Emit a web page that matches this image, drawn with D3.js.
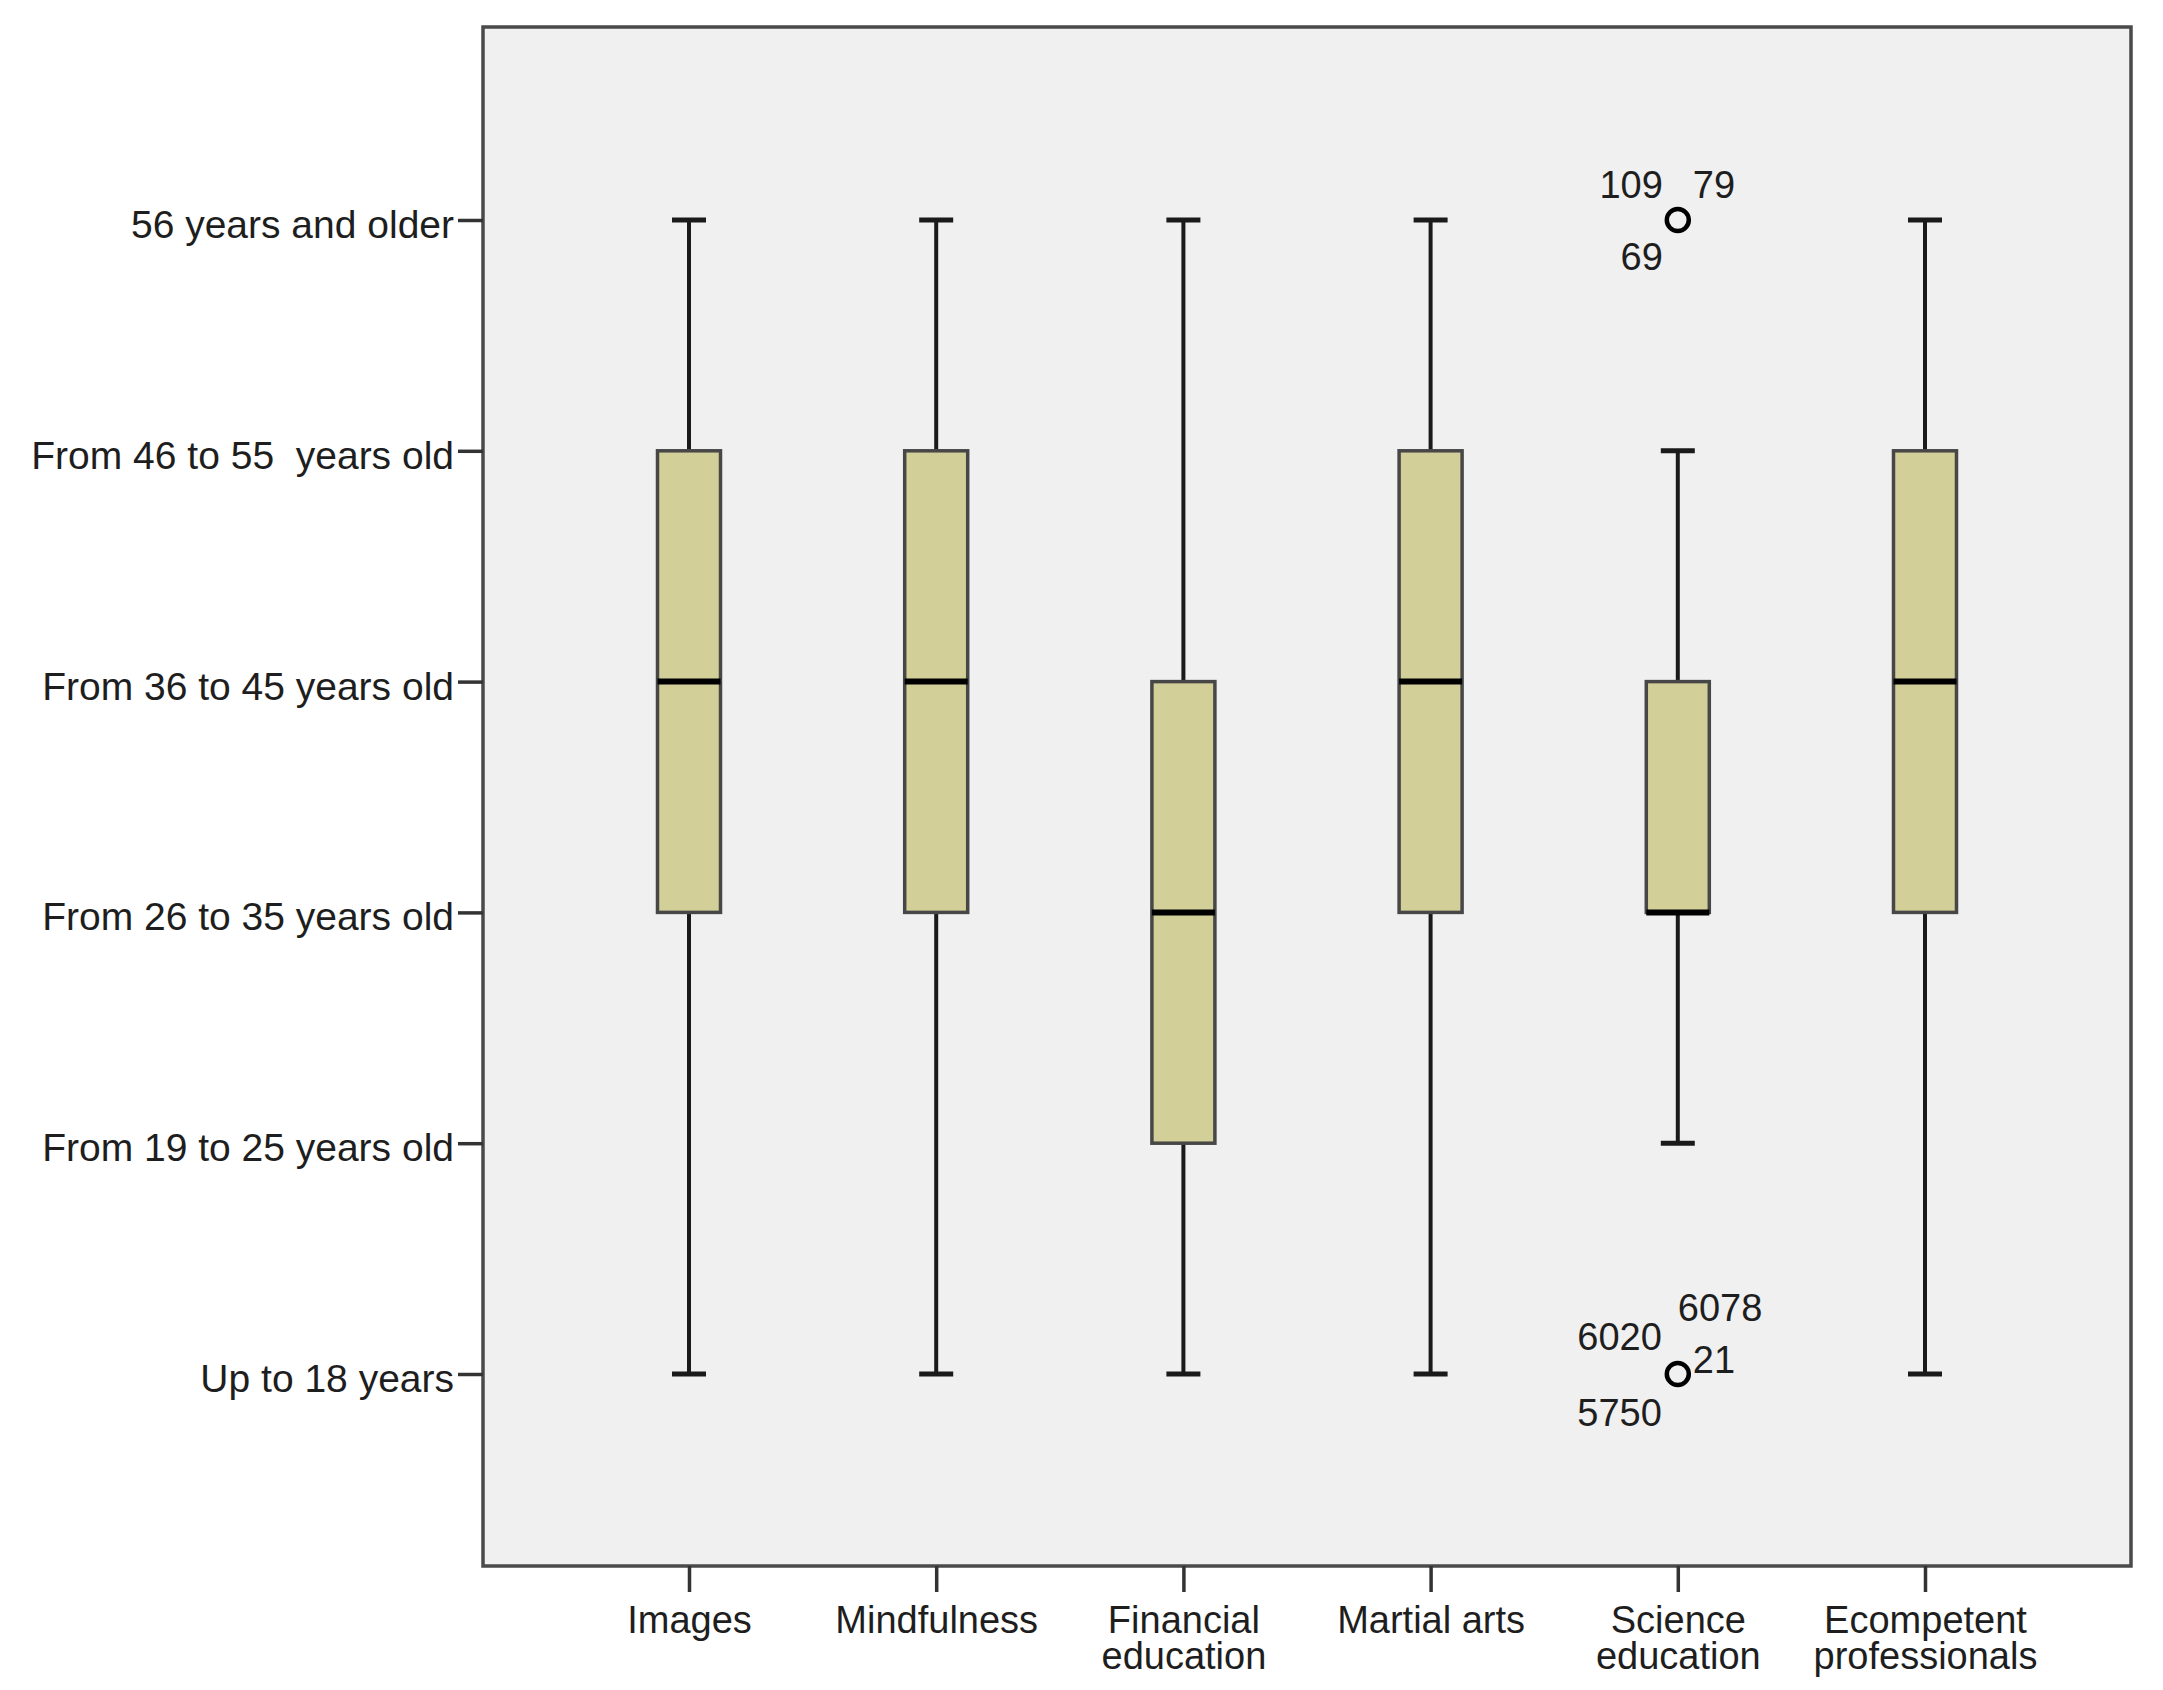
<!DOCTYPE html>
<html>
<head>
<meta charset="utf-8">
<script src="https://cdn.jsdelivr.net/npm/d3@7"></script>
<style>
  body { margin: 0; background: #fff; }
  text { font-family: "Liberation Sans", Arial, sans-serif; fill: #1e1e1e; white-space: pre; }
</style>
</head>
<body>
<svg id="chart" width="2163" height="1690"></svg>
<script>
// categories (x) and the ordinal age groups (y, 1..6)
const CATEGORIES = ['Images', 'Mindfulness', 'Financial education', 'Martial arts', 'Science education', 'Ecompetent professionals'];
const AGE_LABELS = ['Up to 18 years', 'From 19 to 25 years old', 'From 26 to 35 years old',
  'From 36 to 45 years old', 'From 46 to 55  years old', '56 years and older'];
const AGE_VALUES = [1, 2, 3, 4, 5, 6];

// box statistics per category
const WHISKER_LOW  = [1, 1, 1, 1, 2, 1];
const Q1           = [3, 3, 2, 3, 3, 3];
const MEDIAN       = [4, 4, 3, 4, 3, 4];
const Q3           = [5, 5, 4, 5, 4, 5];
const WHISKER_HIGH = [6, 6, 6, 6, 5, 6];

// outliers (case numbers shown next to them)
const OUTLIER_CATEGORY = ['Science education', 'Science education'];
const OUTLIER_VALUE = [6, 1];
const OUTLIER_IDS = [['109', '79', '69'], ['6078', '6020', '21', '5750']];

// where each case label sits around its circle: [dx, dy, anchor]
const LABEL_PLACE = {
  '109': [-15, -22, 'end'], '79': [15, -22, 'start'], '69': [-15, 50, 'end'],
  '6078': [0, -53, 'start'], '6020': [-16, -24, 'end'], '21': [15, -1, 'start'], '5750': [-16, 52, 'end']
};

const svg = d3.select('#chart');
const FRAME = {left: 483, right: 2131, top: 27, bottom: 1566};
const BOX_W = 63, CAP_W = 34;

const x = d3.scalePoint().domain(CATEGORIES).range([689, 1925]);
const y = d3.scaleLinear().domain([1, 6]).range([1374, 220]);

// plot background
svg.append('rect')
  .attr('x', FRAME.left).attr('y', FRAME.top)
  .attr('width', FRAME.right - FRAME.left).attr('height', FRAME.bottom - FRAME.top)
  .attr('fill', '#f0f0f0');

const boxes = CATEGORIES.map((c, i) => ({
  cat: c, lo: WHISKER_LOW[i], q1: Q1[i], med: MEDIAN[i], q3: Q3[i], hi: WHISKER_HIGH[i]
}));

const g = svg.append('g').attr('class', 'boxes');
const box = g.selectAll('.box').data(boxes).enter().append('g').attr('class', 'box');

// whiskers
box.append('line')
  .attr('x1', d => x(d.cat)).attr('x2', d => x(d.cat))
  .attr('y1', d => y(d.hi)).attr('y2', d => y(d.q3))
  .attr('stroke', '#1a1a1a').attr('stroke-width', 4);
box.append('line')
  .attr('x1', d => x(d.cat)).attr('x2', d => x(d.cat))
  .attr('y1', d => y(d.q1)).attr('y2', d => y(d.lo))
  .attr('stroke', '#1a1a1a').attr('stroke-width', 4);
// caps
box.selectAll('.cap').data(d => [d.lo, d.hi].map(v => ({cat: d.cat, v}))).enter()
  .append('line').attr('class', 'cap')
  .attr('x1', d => x(d.cat) - CAP_W / 2).attr('x2', d => x(d.cat) + CAP_W / 2)
  .attr('y1', d => y(d.v)).attr('y2', d => y(d.v))
  .attr('stroke', '#1a1a1a').attr('stroke-width', 5);
// boxes
box.append('rect')
  .attr('x', d => x(d.cat) - BOX_W / 2).attr('width', BOX_W)
  .attr('y', d => y(d.q3)).attr('height', d => y(d.q1) - y(d.q3))
  .attr('fill', '#d3cf98').attr('stroke', '#474747').attr('stroke-width', 3.5);
// medians
box.append('line')
  .attr('x1', d => x(d.cat) - BOX_W / 2).attr('x2', d => x(d.cat) + BOX_W / 2)
  .attr('y1', d => y(d.med)).attr('y2', d => y(d.med))
  .attr('stroke', '#000').attr('stroke-width', 6);

// outliers
const outliers = OUTLIER_VALUE.map((v, i) => ({cat: OUTLIER_CATEGORY[i], v, ids: OUTLIER_IDS[i]}));
const og = svg.append('g').selectAll('.outlier').data(outliers).enter().append('g').attr('class', 'outlier');
og.append('circle')
  .attr('cx', d => x(d.cat)).attr('cy', d => y(d.v)).attr('r', 11)
  .attr('fill', 'none').attr('stroke', '#000').attr('stroke-width', 4.5);
og.selectAll('text').data(d => d.ids.map(id => ({cat: d.cat, v: d.v, id}))).enter()
  .append('text')
  .attr('x', d => x(d.cat) + LABEL_PLACE[d.id][0])
  .attr('y', d => y(d.v) + LABEL_PLACE[d.id][1])
  .attr('text-anchor', d => LABEL_PLACE[d.id][2])
  .attr('font-size', 38)
  .text(d => d.id);

// frame
svg.append('rect')
  .attr('x', FRAME.left).attr('y', FRAME.top)
  .attr('width', FRAME.right - FRAME.left).attr('height', FRAME.bottom - FRAME.top)
  .attr('fill', 'none').attr('stroke', '#4a4a4a').attr('stroke-width', 3.5);

// y axis
const yAxis = svg.append('g')
  .attr('transform', `translate(${FRAME.left},0)`)
  .call(d3.axisLeft(y).tickValues(AGE_VALUES).tickFormat((d, i) => AGE_LABELS[i])
    .tickSize(25).tickPadding(4).tickSizeOuter(0));
yAxis.select('.domain').remove();
yAxis.selectAll('.tick line').attr('stroke', '#333').attr('stroke-width', 3.5);
yAxis.selectAll('.tick text')
  .attr('font-size', 39).attr('font-family', null).attr('fill', '#1e1e1e').attr('dy', '0.45em');

// x axis
const xAxis = svg.append('g')
  .attr('transform', `translate(0,${FRAME.bottom})`)
  .call(d3.axisBottom(x).tickSize(26).tickSizeOuter(0));
xAxis.select('.domain').remove();
xAxis.selectAll('.tick line').attr('stroke', '#333').attr('stroke-width', 3.5);
xAxis.selectAll('.tick text').each(function (d) {
  const t = d3.select(this).text('').attr('font-size', 38).attr('font-family', null)
    .attr('fill', '#1e1e1e').attr('y', 67).attr('dy', null);
  const lines = d === 'Martial arts' ? [d] : d.split(' ');
  lines.forEach((w, k) => {
    t.append('tspan').attr('x', 0).attr('dy', k === 0 ? 0 : 36).text(w);
  });
});
</script>
</body>
</html>
